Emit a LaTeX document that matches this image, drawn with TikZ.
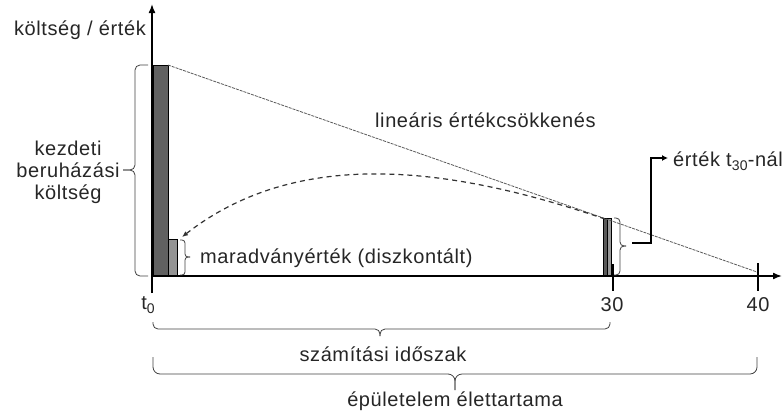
\documentclass[tikz,border=0pt]{standalone}
\usepackage{fontspec}
\setmainfont{Liberation Sans}[LetterSpace=3]
\usetikzlibrary{arrows.meta,calc}
\newcommand\lowsub[1]{\raisebox{-0.45ex}{\fontsize{14}{14}\selectfont #1}}
\begin{document}
\begin{tikzpicture}[x=1pt,y=-1pt,
  lbl/.style={font=\fontsize{20}{22}\selectfont, text=black!85, inner sep=0pt},
  axis/.style={line width=1.6pt, -{Latex[length=9pt,width=7pt]}},
  tickmark/.style={line width=1.8pt},
  bar/.style={draw=black, line width=0.7pt},
  brc/.style={draw=black!75, line width=0.8pt, rounded corners=5pt},
  lin/.style={line width=0.8pt, black!65, dash pattern=on 3pt off 1pt},
  fut/.style={line width=1.2pt, black!80, dash pattern=on 5pt off 4pt, -{Latex[length=6pt,width=5pt]}},
  callout/.style={line width=1.6pt, -{Latex[length=6pt,width=6pt]}},
]
\useasboundingbox (0,0) rectangle (783,415);

% key points on the axes
\coordinate (O) at (152,276);
\coordinate (ytop) at (152,4);
\coordinate (ybot) at (152,293);
\coordinate (xend) at (782,276);
\coordinate (T30) at (613,276);
\coordinate (T40) at (758,276);

% bars: initial cost, discounted residual value, value at year 30
\filldraw[bar, fill=black!62] (153,276) rectangle (168,65);
\filldraw[bar, fill=black!42] (168,276) rectangle (177,239);
\filldraw[bar, fill=black!65] (603,276) rectangle (607,218);
\filldraw[bar, fill=black!40] (607,276) rectangle (611,218);

% linear depreciation
\coordinate (linA) at (168,65);
\coordinate (linB) at (757,272);
\draw[lin] (linA) -- (linB);

% discounting back from year 30
\coordinate (futA) at (605,219);
\coordinate (futB) at (182,237);
\draw[fut] (futA) .. controls (455,168) and (300,145) .. (futB);

% axes
\draw[axis] (ybot) -- (ytop);
\draw[axis] (O) -- (xend);
\draw[tickmark] ($(T30)+(0,-12)$) -- ($(T30)+(0,15)$);
\draw[tickmark] ($(T40)+(0,-13)$) -- ($(T40)+(0,15)$);

% braces
\draw[brc] (148,65) -- (135,65) -- (135,170) -- (123,170);
\draw[brc] (123,170) -- (135,170) -- (135,276) -- (148,276);
\draw[brc, rounded corners=3pt] (180,240) -- (185,240) -- (185,257) -- (190,257);
\draw[brc, rounded corners=3pt] (190,257) -- (185,257) -- (185,275) -- (180,275);
\draw[brc, rounded corners=4pt] (614,218) -- (620,218) -- (620,246) -- (626,246);
\draw[brc, rounded corners=4pt] (626,246) -- (620,246) -- (620,275) -- (614,275);
\draw[brc] (153,322) -- (153,329) -- (380,329) -- (380,336);
\draw[brc] (380,336) -- (380,329) -- (610,329) -- (610,322);
\draw[brc, rounded corners=7pt] (153,357) -- (153,374) -- (455,374) -- (455,390);
\draw[brc, rounded corners=7pt] (455,390) -- (455,374) -- (757,374) -- (757,357);

% value at year 30 callout
\coordinate (cA) at (632,243);
\coordinate (cB) at (668,158);
\draw[callout] (cA) -- (651,243) -- (651,158) -- (cB);

% labels
\node[lbl, anchor=base] (ylab) at (80,35) {költség / érték};
\node[lbl, anchor=center, align=center] (kezd) at (68,172) {kezdeti\\beruházási\\költség};
\node[lbl, anchor=base west] (linlab) at (375,127) {lineáris értékcsökkenés};
\node[lbl, anchor=base west] (marad) at (200,263) {maradványérték (diszkontált)};
\node[lbl, anchor=base west] (t30lab) at (673,166) {érték t\lowsub{30}-nál};
\node[lbl, anchor=base] (t0) at (148,309) {t\lowsub{0}};
\node[lbl, anchor=base] (n30) at (612,311) {30};
\node[lbl, anchor=base] (n40) at (758,311) {40};
\node[lbl, anchor=base] (szam) at (383,361) {számítási időszak};
\node[lbl, anchor=base] (elet) at (455,406) {épületelem élettartama};
\end{tikzpicture}
\end{document}
